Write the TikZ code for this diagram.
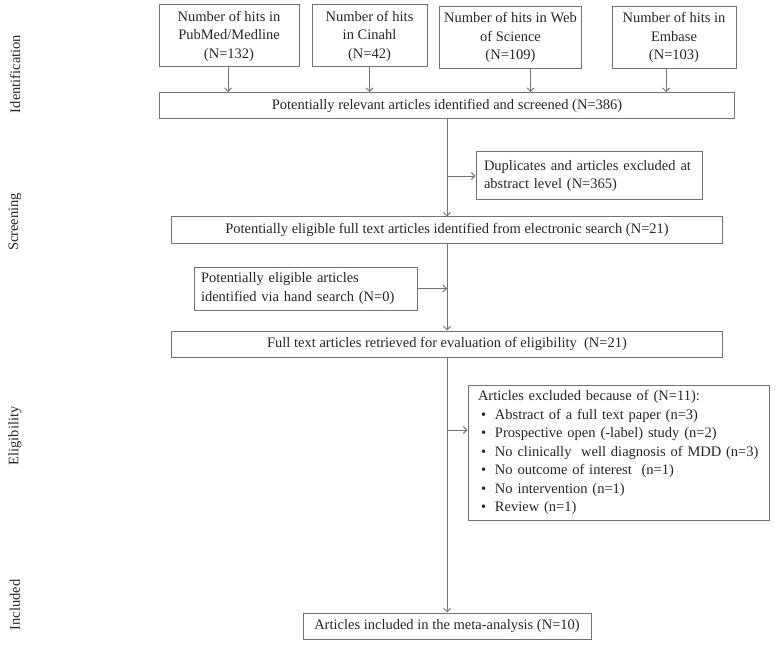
\documentclass[tikz,border=0pt]{standalone}
\usepackage{fontspec}
\setmainfont{Liberation Serif}
\usetikzlibrary{arrows,arrows.meta}

\begin{document}
\begin{tikzpicture}[
    x=1pt, y=-1pt,
    every node/.style={font=\fontsize{14.5}{18.5}\selectfont, text=black!85},
    box/.style={rectangle, draw=black!55, line width=1pt, inner sep=0pt, align=center},
    hits/.style={box, minimum height=62pt},
    stage/.style={box, minimum height=26pt},
    side/.style={box, align=left, inner xsep=8pt},
    phase/.style={rotate=90, anchor=center},
    arrow/.style={-{Straight Barb[length=3.5pt,width=7pt]}, draw=black!55, line width=0.9pt}
]

\useasboundingbox (0,0) rectangle (779,647);

% Phases
\node[phase] (identification) at (15,74) {Identification};
\node[phase] (screening) at (15,222) {Screening};
\node[phase] (eligibility) at (15,436) {Eligibility};
\node[phase] (included_lbl) at (15,605) {Included};

% Database searches
\node[hits, minimum width=140pt] (pubmed) at (229,36) {Number of hits in\\PubMed/Medline\\(N=132)};
\node[hits, minimum width=115pt] (cinahl) at (369.5,36) {Number of hits\\in Cinahl\\(N=42)};
\node[hits, minimum width=142pt] (wos) at (510.5,37.5) {Number of hits in Web\\of Science\\(N=109)};
\node[hits, minimum width=124pt] (embase) at (674,37.5) {Number of hits in\\Embase\\(N=103)};

% Main flow
\node[stage, minimum width=575pt] (relevant) at (447,105.5) {Potentially relevant articles identified and screened (N=386)};
\node[stage, minimum width=551pt] (eligible) at (447,230) {Potentially eligible full text articles identified from electronic search (N=21)};
\node[stage, minimum width=551pt] (retrieved) at (447,344) {Full text articles retrieved for evaluation of eligibility\ \ (N=21)};
\node[stage, minimum width=288pt] (included) at (447,626) {Articles included in the meta-analysis (N=10)};

% Side boxes
\node[side, text width=210pt, minimum height=48pt] (duplicates) at (589,176) {Duplicates and articles excluded at\\abstract level (N=365)};
\node[side, text width=209pt, minimum height=43pt, inner xsep=7pt] (handsearch) at (305.5,288.5) {Potentially eligible articles\\identified via hand search (N=0)};
\node[side, text width=281pt, minimum height=135pt, inner xsep=10pt] (excluded) at (618.5,452.5) {Articles excluded because of (N=11):\\
    \hspace*{3pt}\makebox[14pt][l]{\textbullet}Abstract of a full text paper (n=3)\\
    \hspace*{3pt}\makebox[14pt][l]{\textbullet}Prospective open (-label) study (n=2)\\
    \hspace*{3pt}\makebox[14pt][l]{\textbullet}No clinically\ \ well diagnosis of MDD (n=3)\\
    \hspace*{3pt}\makebox[14pt][l]{\textbullet}No outcome of interest\ \ (n=1)\\
    \hspace*{3pt}\makebox[14pt][l]{\textbullet}No intervention (n=1)\\
    \hspace*{3pt}\makebox[14pt][l]{\textbullet}Review (n=1)};
\coordinate (excl_in) at ([yshift=22.5pt]excluded.west);

% Connectors
\draw[arrow] ([xshift=-1pt]pubmed.south) -- ([xshift=-1pt]pubmed.south |- relevant.north);
\draw[arrow] (cinahl.south) -- (cinahl.south |- relevant.north);
\draw[arrow] ([xshift=20pt]wos.south) -- ([xshift=20pt]wos.south |- relevant.north);
\draw[arrow] ([xshift=-8pt]embase.south) -- ([xshift=-8pt]embase.south |- relevant.north);

\draw[arrow] (relevant) -- (eligible);
\draw[arrow] (relevant.south |- duplicates.west) -- (duplicates.west);
\draw[arrow] (eligible) -- (retrieved);
\draw[arrow] (handsearch.east) -- (handsearch.east -| eligible.south);
\draw[arrow] (retrieved) -- (included);
\draw[arrow] (retrieved.south |- excl_in) -- (excl_in);

\end{tikzpicture}
\end{document}
